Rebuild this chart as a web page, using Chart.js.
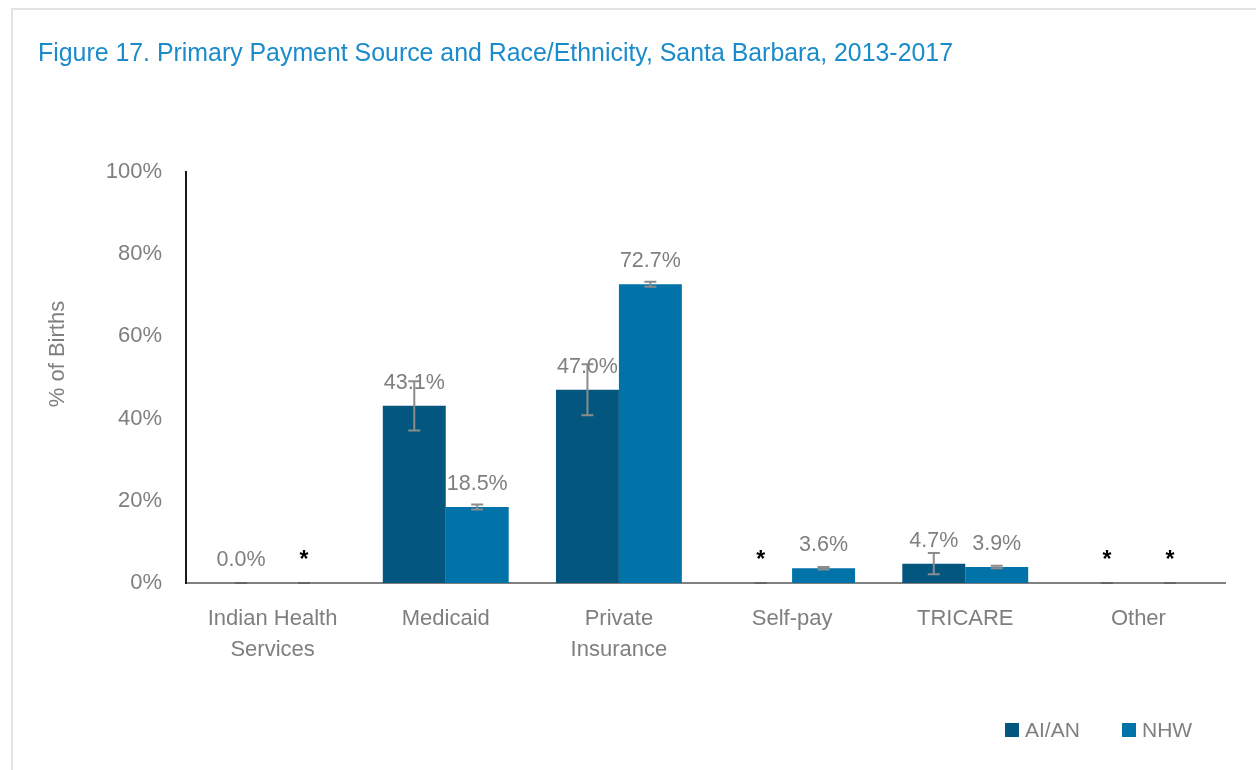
<!DOCTYPE html>
<html>
<head>
<meta charset="utf-8">
<script src="https://cdn.jsdelivr.net/npm/chart.js@4.4.1/dist/chart.umd.min.js"></script>
<style>
  html, body { margin: 0; padding: 0; background: #fff; }
  #wrap { position: relative; width: 1256px; height: 770px; overflow: hidden; }
  #frame { position: absolute; left: 11px; top: 8px; width: 1300px; height: 800px;
           border-top: 2px solid #e3e3e3; border-left: 2px solid #e3e3e3; }
  #title { position: absolute; left: 38px; top: 37px; font-family: "Liberation Sans Narrow", "Liberation Sans", Arial, sans-serif;
           font-size: 26px; color: #1a8bcb; white-space: nowrap; transform-origin: left top; }
  #legend { position: absolute; top: 717px; left: 1005px; font-family: "Liberation Sans", Arial, sans-serif;
            font-size: 21px; color: #7f7f7f; white-space: nowrap; }
  .item { position: absolute; top: 0; }
  .box { position: absolute; top: 6px; width: 14px; height: 14px; }
  .txt { position: absolute; left: 20px; top: 0; line-height: 26px; }
  canvas { position: absolute; left: 0; top: 0; }
</style>
</head>
<body>
<div id="wrap">
  <div id="frame"></div>
  <canvas id="c" width="1256" height="770"></canvas>
  <div id="title">Figure 17. Primary Payment Source and Race/Ethnicity, Santa Barbara, 2013-2017</div>
  <div id="legend"></div>
</div>
<script>
const categories = [["Indian Health", "Services"], "Medicaid", ["Private", "Insurance"], "Self-pay", "TRICARE", "Other"];
const seriesNames = ["AI/AN", "NHW"];
const aianValues = [0.0, 43.1, 47.0, 0, 4.7, 0];
const nhwValues = [0, 18.5, 72.7, 3.6, 3.9, 0];
const aianErrors = [0, 6.0, 6.2, 0, 2.6, 0];
const nhwErrors = [0, 0.6, 0.6, 0.3, 0.3, 0];
const aianLabels = ["0.0%", "43.1%", "47.0%", "*", "4.7%", "*"];
const nhwLabels = ["*", "18.5%", "72.7%", "3.6%", "3.9%", "*"];
const yTicks = [0, 20, 40, 60, 80, 100];
const yTitle = "% of Births";
const colors = ["#03567d", "#0173a8"];

const FONT = '"Liberation Sans", Arial, sans-serif';

const errorAndLabels = {
  id: 'errorAndLabels',
  afterDatasetsDraw(chart) {
    const ctx = chart.ctx;
    const y = chart.scales.y;
    chart.data.datasets.forEach((ds, di) => {
      const meta = chart.getDatasetMeta(di);
      meta.data.forEach((bar, i) => {
        const v = ds.data[i];
        const e = ds.errors[i];
        const x = bar.x;
        const yHi = y.getPixelForValue(v + e);
        const yLo = y.getPixelForValue(v - e < 0 ? 0 : v - e);
        ctx.save();
        ctx.strokeStyle = e === 0 ? '#666666' : '#8c8c8c';
        ctx.lineWidth = 2;
        ctx.beginPath();
        ctx.moveTo(x, yHi); ctx.lineTo(x, yLo);
        ctx.moveTo(x - 6, yHi); ctx.lineTo(x + 6, yHi);
        ctx.moveTo(x - 6, yLo); ctx.lineTo(x + 6, yLo);
        ctx.stroke();
        ctx.restore();
      });
    });
    chart.data.datasets.forEach((ds, di) => {
      const meta = chart.getDatasetMeta(di);
      meta.data.forEach((bar, i) => {
        const lab = ds.valueLabels[i];
        const top = y.getPixelForValue(ds.data[i]);
        ctx.save();
        ctx.textAlign = 'center';
        ctx.textBaseline = 'middle';
        if (lab === '*') {
          ctx.font = 'bold 23px ' + FONT;
          ctx.fillStyle = '#000000';
          ctx.fillText(lab, bar.x, top - 22);
        } else {
          ctx.font = '21.5px ' + FONT;
          ctx.fillStyle = '#7f7f7f';
          ctx.fillText(lab, bar.x, top - 23);
        }
        ctx.restore();
      });
    });
  },
  afterDraw(chart) {
    const ctx = chart.ctx;
    ctx.save();
    ctx.translate(58, 354);
    ctx.rotate(-Math.PI / 2);
    ctx.font = '22px ' + FONT;
    ctx.fillStyle = '#7f7f7f';
    ctx.textAlign = 'center';
    ctx.textBaseline = 'middle';
    ctx.fillText(yTitle, 0, 0);
    ctx.restore();
  }
};

const chart = new Chart(document.getElementById('c'), {
  type: 'bar',
  data: {
    labels: categories,
    datasets: [
      { label: seriesNames[0], data: aianValues, errors: aianErrors, valueLabels: aianLabels,
        backgroundColor: colors[0], borderWidth: 0 },
      { label: seriesNames[1], data: nhwValues, errors: nhwErrors, valueLabels: nhwLabels,
        backgroundColor: colors[1], borderWidth: 0 }
    ]
  },
  options: {
    responsive: false,
    animation: false,
    events: [],
    layout: { padding: { top: 172, right: 31, left: 0, bottom: 0 } },
    datasets: { bar: { categoryPercentage: 0.727, barPercentage: 1.0 } },
    plugins: { legend: { display: false }, title: { display: false }, tooltip: { enabled: false } },
    scales: {
      x: {
        grid: { display: false },
        border: { display: true, color: '#808080', width: 2 },
        ticks: { color: '#7f7f7f', font: { family: FONT, size: 22, lineHeight: 1.4 }, padding: 13, maxRotation: 0, autoSkip: false },
        afterFit(scale) { scale.height = 187; }
      },
      y: {
        min: 0, max: 100,
        afterBuildTicks(scale) { scale.ticks = yTicks.map(v => ({ value: v })); },
        grid: { display: false },
        border: { display: true, color: '#1a1a1a', width: 2 },
        ticks: { color: '#7f7f7f', font: { family: FONT, size: 22 }, padding: 16, callback: v => v + '%' },
        title: { display: false },
        afterFit(scale) { scale.width = 186; }
      }
    }
  },
  plugins: [errorAndLabels]
});

// legend from series names
const leg = document.getElementById('legend');
const offsets = [0, 117];
seriesNames.forEach((n, i) => {
  const it = document.createElement('div');
  it.className = 'item';
  it.style.left = offsets[i] + 'px';
  it.innerHTML = '<div class="box" style="background:' + colors[i] + '"></div><div class="txt">' + n + '</div>';
  leg.appendChild(it);
});

// fit title width to reference
const t = document.getElementById('title');
const w = t.getBoundingClientRect().width;
if (w > 0) t.style.transform = 'scaleX(' + (915 / w) + ')';
</script>
</body>
</html>
